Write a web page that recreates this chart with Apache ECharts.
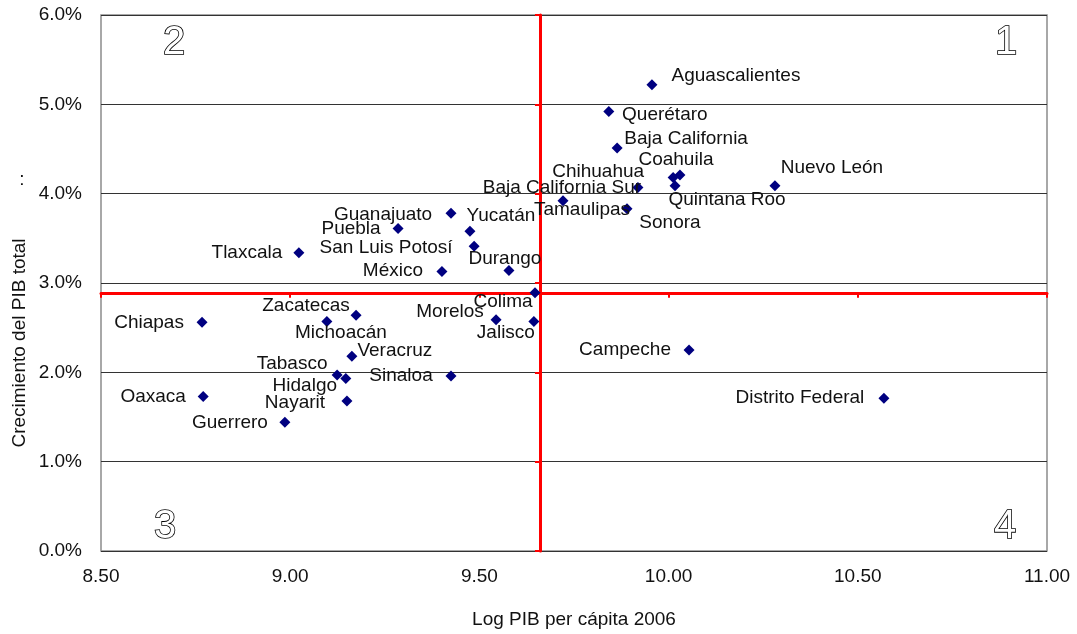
<!DOCTYPE html>
<html>
<head>
<meta charset="utf-8">
<script src="https://cdn.jsdelivr.net/npm/echarts@6/dist/echarts.min.js"></script>
<style>
  html, body { margin: 0; padding: 0; background: #fff; }
  #chart { width: 1077px; height: 634px; }
</style>
</head>
<body>
<div id="chart"></div>
<script>
// Entidades federativas
const states = [
  'Aguascalientes', 'Querétaro', 'Baja California', 'Chihuahua', 'Coahuila',
  'Quintana Roo', 'Nuevo León', 'Baja California Sur', 'Tamaulipas', 'Sonora',
  'Guanajuato', 'Yucatán', 'San Luis Potosí', 'Puebla', 'Tlaxcala',
  'México', 'Durango', 'Colima', 'Morelos', 'Jalisco',
  'Zacatecas', 'Michoacán', 'Chiapas', 'Veracruz', 'Tabasco',
  'Hidalgo', 'Sinaloa', 'Oaxaca', 'Nayarit', 'Guerrero',
  'Campeche', 'Distrito Federal'
];

// Log del PIB per cápita 2006
const logPib = [
  9.956, 9.842, 9.864, 10.012, 10.030,
  10.017, 10.281, 9.919, 9.721, 9.890,
  9.425, 9.475, 9.486, 9.285, 9.023,
  9.401, 9.578, 9.647, 9.544, 9.644,
  9.174, 9.097, 8.767, 9.163, 9.124,
  9.147, 9.425, 8.770, 9.150, 8.986,
  10.054, 10.569
];

// Crecimiento del PIB total (%)
const growth = [
  5.22, 4.92, 4.51, 4.18, 4.21,
  4.09, 4.09, 4.07, 3.92, 3.83,
  3.78, 3.58, 3.41, 3.61, 3.34,
  3.13, 3.14, 2.89, 2.59, 2.57,
  2.64, 2.57, 2.56, 2.18, 1.97,
  1.93, 1.96, 1.73, 1.68, 1.44,
  2.25, 1.71
];

// Promedios que dividen los cuadrantes
const meanLogPib = 9.66;
const meanGrowth = 2.89;

const quadrants = ['1', '2', '3', '4'];

// Desplazamiento de cada etiqueta respecto a su punto (px)
const labelOffsets = [
  [84, -9], [56, 3], [69, -9], [-75, -6], [-4, -15],
  [52, 14], [57, -18], [-76, 0], [19, 9], [43, 14],
  [-68, 1], [31, -15], [-88, 1], [-47, 0], [-52, 0],
  [-49, -1], [-4, -12], [-32, 9], [-46, -8], [-28, 11],
  [-50, -9], [14, 11], [-53, 0], [43, -5], [-45, -11],
  [-41, 7], [-50, 0], [-50, 0], [-52, 2], [-55, 0],
  [-64, 0], [-84, 0]
];

const FONT = 'Liberation Sans, Arial, sans-serif';
const TEXT = '#111111';
const xMin = 8.5, xMax = 11, yMin = 0, yMax = 6;

const points = states.map((name, i) => ({
  name: name,
  value: [logPib[i], growth[i]],
  label: { offset: labelOffsets[i] }
}));

const chart = echarts.init(document.getElementById('chart'), null, { renderer: 'canvas' });

const quadText = (t, x, y) => ({
  type: 'text', x: x, y: y, z: 10,
  style: {
    text: t, font: '40px ' + FONT, fill: '#ffffff', stroke: '#000000', lineWidth: 1.6,
    textAlign: 'center', textVerticalAlign: 'middle'
  }
});

chart.setOption({
  animation: false,
  backgroundColor: '#ffffff',
  grid: {
    left: 101, top: 15, right: 30, bottom: 82,
    show: true, borderColor: '#8c8c8c', borderWidth: 1.5, backgroundColor: 'transparent'
  },
  xAxis: [
    {
      type: 'value', min: xMin, max: xMax, interval: 0.5,
      axisLine: { show: false, onZero: false }, axisTick: { show: false }, splitLine: { show: false },
      axisLabel: { margin: 16, color: TEXT, fontSize: 19, fontFamily: FONT,
        formatter: v => v.toFixed(2) },
      name: 'Log PIB per cápita 2006', nameLocation: 'middle', nameGap: 59,
      nameTextStyle: { color: TEXT, fontSize: 19, fontFamily: FONT }
    },
    {
      // línea roja del promedio de crecimiento
      type: 'value', min: xMin, max: xMax, interval: 0.5, position: 'bottom',
      axisLine: { show: true, onZero: true, onZeroAxisIndex: 1, lineStyle: { color: '#ff0000', width: 3 } },
      axisTick: { show: true, length: 5, lineStyle: { color: '#ff0000', width: 2 } },
      axisLabel: { show: false }, splitLine: { show: false }
    },
    {
      // escala auxiliar centrada en el promedio del log PIB
      type: 'value', min: xMin - meanLogPib, max: xMax - meanLogPib, show: false,
      splitLine: { show: false }
    }
  ],
  yAxis: [
    {
      type: 'value', min: yMin, max: yMax, interval: 1,
      axisLine: { show: false, onZero: false }, axisTick: { show: false },
      splitLine: { show: true, lineStyle: { color: '#333333', width: 1 } },
      axisLabel: { margin: 19, color: TEXT, fontSize: 19, fontFamily: FONT,
        formatter: v => v.toFixed(1) + '%' }
    },
    {
      // línea roja del promedio del log PIB
      type: 'value', min: yMin - meanGrowth, max: yMax - meanGrowth, interval: 1, position: 'left',
      axisLine: { show: true, onZero: true, onZeroAxisIndex: 2, lineStyle: { color: '#ff0000', width: 3 } },
      axisTick: { show: true, length: 5, lineStyle: { color: '#ff0000', width: 2 } },
      axisLabel: { show: false }, splitLine: { show: false }
    }
  ],
  graphic: [
    {
      type: 'text', x: 20, y: 343, rotation: Math.PI / 2,
      style: {
        text: 'Crecimiento del PIB total', font: '19px ' + FONT, fill: TEXT,
        textAlign: 'center', textVerticalAlign: 'middle'
      }
    },
    {
      type: 'text', x: 22, y: 180,
      style: {
        text: ':', font: '19px ' + FONT, fill: TEXT,
        textAlign: 'center', textVerticalAlign: 'middle'
      }
    },
    quadText(quadrants[0], 1006, 43),
    quadText(quadrants[1], 174, 43),
    quadText(quadrants[2], 165, 527),
    quadText(quadrants[3], 1005, 527)
  ],
  series: [{
    type: 'scatter',
    xAxisIndex: 0, yAxisIndex: 0,
    symbol: 'diamond', symbolSize: 11,
    itemStyle: { color: '#000080', opacity: 1 },
    z: 5,
    label: {
      show: true, position: 'inside', formatter: '{b}',
      color: TEXT, fontSize: 19, fontFamily: FONT,
      align: 'center', verticalAlign: 'middle', textBorderWidth: 0
    },
    data: points
  }]
});
</script>
</body>
</html>
